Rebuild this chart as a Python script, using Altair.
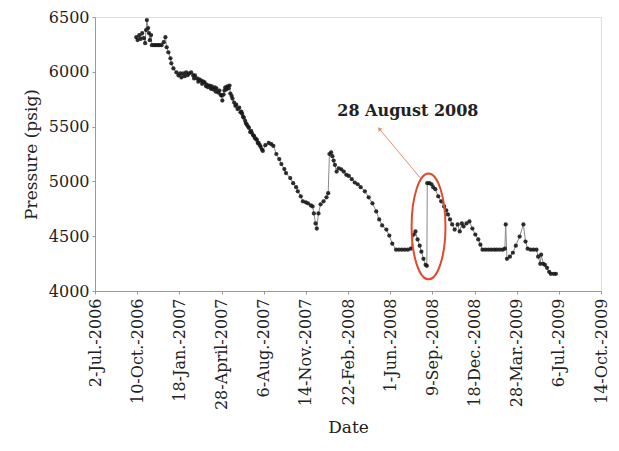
import altair as alt
import pandas as pd

# Days since 2 Jul 2006 and well pressure (psig)
days = [98, 101, 105, 108, 112, 116, 119, 121, 123, 126, 128, 130, 133, 135, 140, 144, 149, 153, 158, 163,
        167, 170, 174, 179, 181, 186, 193, 198, 202, 205, 209, 213, 216, 220, 223, 228, 233, 235, 237, 242,
        245, 247, 251, 254, 256, 260, 263, 265, 268, 272, 275, 277, 280, 284, 286, 288, 292, 295, 298, 300,
        302, 305, 307, 309, 312, 314, 317, 319, 321, 324, 326, 330, 333, 335, 338, 342, 345, 347, 349, 351,
        353, 356, 358, 360, 363, 365, 368, 370, 372, 375, 377, 379, 382, 384, 386, 388, 391, 393, 396, 398,
        404, 412, 418, 423, 430, 437, 442, 449, 453, 463, 470, 477, 481, 488, 493, 500, 505, 512, 516, 519,
        523, 526, 530, 535, 542, 549, 553, 556, 560, 563, 566, 569, 573, 578, 584, 590, 596, 602, 609, 616,
        623, 630, 640, 649, 658, 667, 674, 681, 691, 698, 705, 714, 721, 728, 735, 742, 749, 756, 760, 765,
        770, 774, 779, 784, 787, 788, 793, 798, 802, 807, 814, 821, 828, 833, 837, 842, 847, 853, 860, 865,
        870, 874, 881, 888, 895, 902, 909, 914, 919, 926, 933, 940, 947, 953, 960, 967, 972, 974, 977, 984,
        991, 998, 1007, 1016, 1021, 1026, 1033, 1040, 1047, 1051, 1056, 1058, 1063, 1067, 1072, 1077, 1081,
        1088, 1093]
psig = [6316, 6290, 6335, 6300, 6353, 6307, 6261, 6381, 6472, 6399, 6353, 6289, 6335, 6243, 6243, 6243, 6243, 6243, 6243, 6270,
        6316, 6224, 6178, 6123, 6077, 6031, 5995, 5967, 5985, 5949, 5985, 5960, 5995, 5970, 5985, 5995, 5967, 5940, 5967, 5939,
        5910, 5930, 5921, 5890, 5912, 5903, 5870, 5884, 5860, 5875, 5845, 5866, 5840, 5857, 5820, 5848, 5810, 5829, 5790, 5783,
        5737, 5792, 5830, 5857, 5840, 5866, 5850, 5875, 5802, 5780, 5756, 5719, 5690, 5700, 5660, 5673, 5630, 5636, 5618, 5590,
        5581, 5553, 5530, 5517, 5500, 5489, 5450, 5462, 5443, 5420, 5416, 5397, 5385, 5379, 5350, 5351, 5330, 5315, 5290, 5278,
        5330, 5351, 5340, 5324, 5250, 5204, 5158, 5112, 5076, 5030, 4984, 4947, 4910, 4864, 4818, 4809, 4800, 4781, 4772, 4708,
        4616, 4570, 4708, 4791, 4818, 4855, 4892, 5250, 5265, 5230, 5190, 5150, 5090, 5120, 5110, 5090, 5060, 5050, 5020, 4990,
        4974, 4947, 4910, 4855, 4800, 4726, 4653, 4598, 4561, 4506, 4432, 4377, 4377, 4377, 4377, 4377, 4386, 4515, 4543, 4470,
        4414, 4359, 4294, 4239, 4230, 4984, 4984, 4974, 4947, 4929, 4864, 4818, 4772, 4736, 4699, 4653, 4607, 4561, 4607, 4543,
        4616, 4589, 4616, 4635, 4570, 4515, 4470, 4423, 4377, 4377, 4377, 4377, 4377, 4377, 4377, 4377, 4386, 4607, 4294, 4313,
        4349, 4414, 4497, 4607, 4451, 4386, 4377, 4377, 4377, 4313, 4248, 4331, 4248, 4239, 4212, 4175, 4157,
        4157, 4157]

tick_labels = ["2-Jul.-2006", "10-Oct.-2006", "18-Jan.-2007", "28-April-2007", "6-Aug.-2007",
               "14-Nov.-2007", "22-Feb.-2008", "1-Jun.-2008", "9-Sep.-2008", "18-Dec.-2008",
               "28-Mar.-2009", "6-Jul.-2009", "14-Oct.-2009"]
tick_days = [0, 100, 200, 300, 400, 500, 600, 700, 800, 900, 1000, 1100, 1200]

annot_text = "28 August 2008"
ellipse_day, ellipse_psig = 791, 4589
arrow_from = (774, 5020)
arrow_to = (674, 5480)
text_day, text_psig = 742, 5645

start = pd.Timestamp("2006-07-02")
def to_date(d):
    return (start + pd.Timedelta(days=d)).strftime("%Y-%m-%d")

df = pd.DataFrame({"date": [to_date(d) for d in days], "psig": psig})

FONT = "DejaVu Serif"
label_list = "[" + ",".join("'%s'" % t for t in tick_labels) + "]"
x_axis = alt.Axis(
    values=[alt.DateTime(year=int(to_date(d)[:4]), month=int(to_date(d)[5:7]), date=int(to_date(d)[8:]), utc=True)
            for d in tick_days],
    labelExpr=label_list + "[round((datum.value - utc(2006,6,2))/8640000000)]",
    labelAngle=270, labelAlign="right", labelBaseline="middle",
    labelFont=FONT, labelFontSize=16, labelColor="#222", labelPadding=4,
    title="Date", titleFont=FONT, titleFontSize=17, titleFontWeight="normal", titleColor="#222",
    titlePadding=10, domainColor="#999", tickColor="#999", tickSize=3, grid=False,
)
x_scale = alt.Scale(type="utc", domain=[alt.DateTime(year=2006, month=7, date=2, utc=True),
                                        alt.DateTime(year=2009, month=10, date=14, utc=True)])
y_axis = alt.Axis(values=[4000, 4500, 5000, 5500, 6000, 6500], format="d", labelFont=FONT, labelFontSize=16,
                  labelColor="#222", title="Pressure (psig)", titleFont=FONT, titleFontSize=17,
                  titleFontWeight="normal", titleColor="#222", titlePadding=8, domainColor="#999",
                  tickColor="#999", tickSize=3, grid=False, labelPadding=3)
y_scale = alt.Scale(domain=[4000, 6500], nice=False, zero=False)

X = alt.X("date:T", scale=x_scale, axis=x_axis)
Y = alt.Y("psig:Q", scale=y_scale, axis=y_axis)

line = alt.Chart(df).mark_line(color="#8a8a8a", strokeWidth=1).encode(x=X, y=Y)
pts = alt.Chart(df).mark_circle(color="#1a1a1a", size=18, opacity=0.9).encode(x=X, y=Y)

ann = pd.DataFrame({"date": [to_date(ellipse_day)], "psig": [ellipse_psig]})
ellipse = alt.Chart(ann).mark_point(
    shape="M -0.32 0 A 0.32 1 0 1 1 0.32 0 A 0.32 1 0 1 1 -0.32 0 Z",
    size=11200, filled=False, stroke="#e04a2e", strokeWidth=2, opacity=1,
).encode(x="date:T", y="psig:Q")

arrow_df = pd.DataFrame({"date": [to_date(arrow_from[0])], "psig": [arrow_from[1]],
                         "date2": [to_date(arrow_to[0])], "psig2": [arrow_to[1]]})
arrow = alt.Chart(arrow_df).mark_rule(color="#ec8a76", strokeWidth=1).encode(
    x="date:T", y="psig:Q", x2="date2:T", y2="psig2:Q")
head_df = pd.DataFrame({"date": [to_date(arrow_to[0])], "psig": [arrow_to[1]]})
head = alt.Chart(head_df).mark_point(shape="triangle-up", size=22, filled=True, color="#ec8a76",
                                     angle=319, opacity=1).encode(x="date:T", y="psig:Q")

text_df = pd.DataFrame({"date": [to_date(text_day)], "psig": [text_psig], "t": [annot_text]})
text = alt.Chart(text_df).mark_text(font=FONT, fontSize=16, fontWeight="bold", color="#222").encode(
    x="date:T", y="psig:Q", text="t:N")

chart = alt.layer(line, pts, arrow, head, ellipse, text).properties(
    width=506, height=274,
    autosize=alt.AutoSizeParams(type="none"),
    padding={"left": 87, "top": 9, "right": 10, "bottom": 152},
).configure_view(stroke="#999", strokeWidth=1).configure(background="white")

chart.save("out.html", embed_options={"renderer": "svg", "actions": False})
